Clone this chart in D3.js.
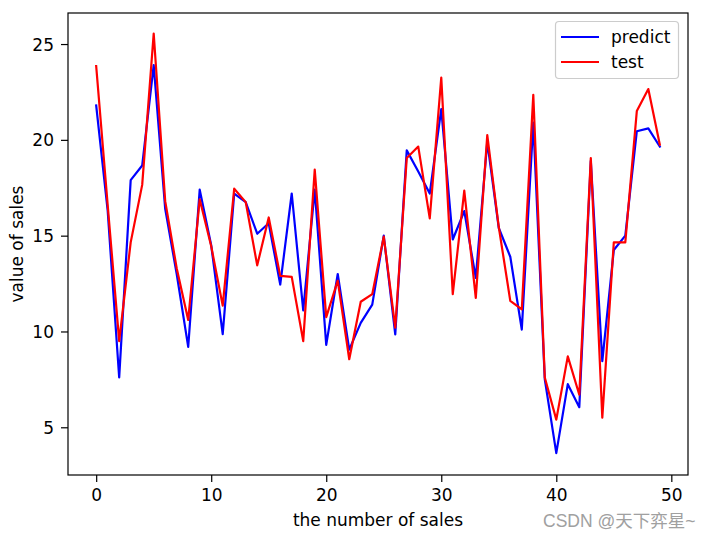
<!DOCTYPE html>
<html>
<head>
<meta charset="utf-8">
<script src="https://cdn.jsdelivr.net/npm/d3@7"></script>
<style>
  html, body { margin: 0; padding: 0; background: #fff; }
  svg text { font-family: "DejaVu Sans", sans-serif; }
</style>
</head>
<body>
<svg id="chart" width="716" height="537"></svg>
<script>
const xTicks = [0, 10, 20, 30, 40, 50];
const yTicks = [5, 10, 15, 20, 25];
const seriesNames = ["predict", "test"];
const seriesColors = ["#0000ff", "#ff0000"];

const predict = [21.8, 16.3, 7.6, 17.9, 18.66, 23.9, 16.4, 13.0, 9.2, 17.4,
  14.5, 9.86, 17.2, 16.75, 15.1, 15.65, 12.45, 17.2, 11.1, 17.4,
  9.3, 13.0, 9.05, 10.45, 11.4, 15.0, 9.85, 19.45, 18.35, 17.2,
  21.6, 14.8, 16.28, 12.8, 19.9, 15.4, 13.9, 10.1, 20.9, 7.5,
  3.65, 7.25, 6.05, 18.9, 8.45, 14.25, 15.0, 20.45, 20.6, 19.65];
const test = [23.85, 16.6, 9.5, 14.65, 17.65, 25.55, 16.8, 13.3, 10.6, 16.9,
  14.45, 11.35, 17.45, 16.75, 13.45, 15.95, 12.9, 12.85, 9.5, 18.45,
  10.75, 12.65, 8.55, 11.55, 11.95, 14.95, 10.2, 19.05, 19.65, 15.9,
  23.25, 11.95, 17.35, 11.75, 20.25, 15.45, 11.6, 11.15, 22.35, 7.6,
  5.4, 8.7, 6.7, 19.05, 5.5, 14.65, 14.65, 21.5, 22.65, 19.75];

const svg = d3.select("#chart");
const L = 68, R = 688, T = 13, B = 475;
const x = d3.scaleLinear().domain([-2.45, 51.45]).range([L, R]);
const y = d3.scaleLinear().domain([2.51, 26.62]).range([B, T]);
const FS = 17;

// x axis
const xAxis = svg.append("g").attr("transform", `translate(0,${B})`)
  .call(d3.axisBottom(x).tickValues(xTicks).tickSize(7).tickPadding(5).tickFormat(d3.format("d")));
xAxis.select(".domain").remove();
xAxis.selectAll("line").attr("stroke", "#000").attr("stroke-width", 1.2);
xAxis.selectAll("text").attr("font-size", FS).attr("fill", "#000")
  .attr("dy", null).attr("y", 26);

// y axis
const yAxis = svg.append("g").attr("transform", `translate(${L},0)`)
  .call(d3.axisLeft(y).tickValues(yTicks).tickSize(7).tickPadding(6).tickFormat(d3.format("d")));
yAxis.select(".domain").remove();
yAxis.selectAll("line").attr("stroke", "#000").attr("stroke-width", 1.2);
yAxis.selectAll("text").attr("font-size", FS).attr("fill", "#000")
  .attr("x", -14).attr("dy", "0.36em");

// lines
const series = [predict, test];
const line = d3.line().x((d, i) => x(i)).y(d => y(d));
series.forEach((s, k) => {
  svg.append("path").datum(s)
    .attr("fill", "none")
    .attr("stroke", seriesColors[k])
    .attr("stroke-width", 2.2)
    .attr("stroke-linejoin", "round")
    .attr("stroke-linecap", "square")
    .attr("d", line);
});

// frame
svg.append("rect").attr("x", L).attr("y", T).attr("width", R - L).attr("height", B - T)
  .attr("fill", "none").attr("stroke", "#000").attr("stroke-width", 1.2);

// legend
const lg = svg.append("g");
lg.append("rect").attr("x", 555.5).attr("y", 21.5).attr("width", 123).attr("height", 57)
  .attr("rx", 3.5).attr("fill", "rgba(255,255,255,0.8)").attr("stroke", "#cccccc").attr("stroke-width", 1.2);
seriesNames.forEach((n, k) => {
  const yy = 37 + k * 25;
  lg.append("line").attr("x1", 561).attr("x2", 599).attr("y1", yy).attr("y2", yy)
    .attr("stroke", seriesColors[k]).attr("stroke-width", 2.2);
  lg.append("text").attr("x", 611).attr("y", yy).attr("dy", "0.36em")
    .attr("font-size", FS).attr("fill", "#000").text(n);
});

// axis labels
svg.append("text").attr("x", (L + R) / 2).attr("y", 526).attr("text-anchor", "middle")
  .attr("font-size", FS).attr("fill", "#000").text("the number of sales");
svg.append("text").attr("transform", `translate(23,${(T + B) / 2}) rotate(-90)`)
  .attr("text-anchor", "middle").attr("font-size", FS).attr("fill", "#000").text("value of sales");

// watermark
svg.append("text").attr("x", 543).attr("y", 527)
  .style("font-family", "'Liberation Sans', 'Noto Sans CJK SC', sans-serif")
  .attr("font-size", 17.5).attr("fill", "#a0a0a0").text("CSDN @天下弈星~");
</script>
</body>
</html>
